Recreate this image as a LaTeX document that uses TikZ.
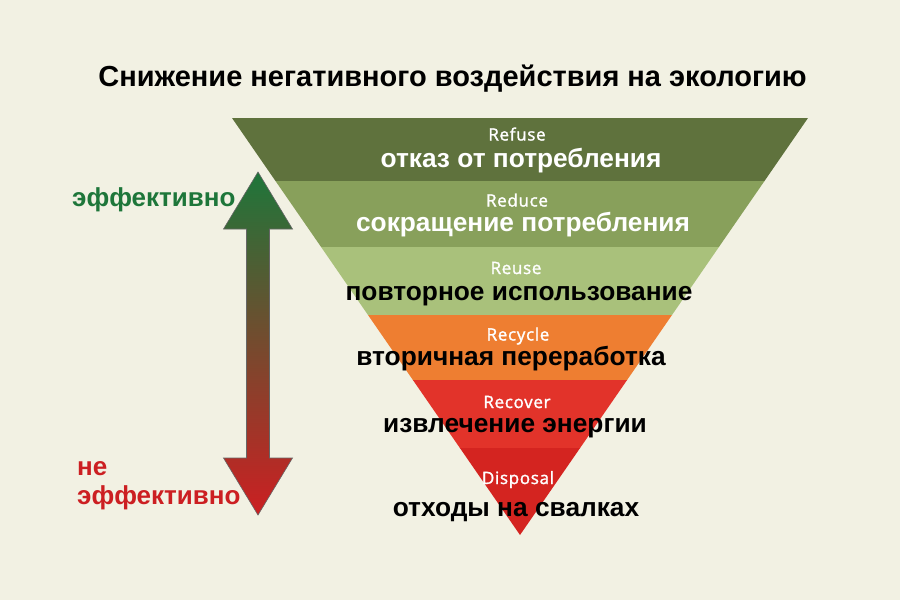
\documentclass[tikz,border=0pt]{standalone}
\usepackage{fontspec}
\setmainfont{Liberation Sans}
\newfontfamily\labelfont{Open Sans}[FakeBold=1.6,LetterSpace=4]
\definecolor{bgcream}{HTML}{F2F1E3}
\definecolor{refusegreen}{HTML}{5F723D}
\definecolor{reducegreen}{HTML}{88A05B}
\definecolor{reusegreen}{HTML}{A9C17B}
\definecolor{recycleorange}{HTML}{EE7E31}
\definecolor{recoverred}{HTML}{E2332A}
\definecolor{disposalred}{HTML}{D42420}
\definecolor{goodgreen}{HTML}{1E763A}
\definecolor{badred}{HTML}{CC1F22}
\begin{document}
\begin{tikzpicture}[x=1pt,y=-1pt,
  en/.style={text=white,font=\labelfont\fontsize{17}{19}\selectfont,anchor=base,inner sep=0pt},
  ru/.style={font=\bfseries\fontsize{26.3}{30}\selectfont,anchor=base,inner sep=0pt},
  side/.style={font=\bfseries\fontsize{26}{30}\selectfont,anchor=base west,inner sep=0pt}]
\useasboundingbox (0,0) rectangle (900,600);
\fill[bgcream] (0,0) rectangle (900,600);

% title
\node[font=\bfseries\fontsize{29}{33}\selectfont,anchor=base,inner sep=0pt] (title) at (452.5,86) {Снижение негативного воздействия на экологию};

% bands of the funnel
\fill[refusegreen] (232,118) -- (808,118) -- (764.5,181) -- (275.5,181) -- cycle;
\fill[reducegreen] (275.5,181) -- (764.5,181) -- (718.9,247) -- (321.1,247) -- cycle;
\fill[reusegreen] (321.1,247) -- (718.9,247) -- (672.0,315) -- (368.0,315) -- cycle;
\fill[recycleorange] (368.0,315) -- (672.0,315) -- (627.1,380) -- (412.9,380) -- cycle;
\fill[recoverred] (412.9,380) -- (627.1,380) -- (580.1,448) -- (459.9,448) -- cycle;
\fill[disposalred] (459.9,448) -- (580.1,448) -- (520,535) -- cycle;

\node[en] (refuse) at (517,140.5) {Refuse};
\node[ru,text=white] (refuseRu) at (521,167.5) {отказ от потребления};
\node[en] (reduce) at (517,206.5) {Reduce};
\node[ru,text=white] (reduceRu) at (523,231.5) {сокращение потребления};
\node[en] (reuse) at (516,274) {Reuse};
\node[ru] (reuseRu) at (519,300.5) {повторное использование};
\node[en] (recycle) at (518,340.5) {Recycle};
\node[ru] (recycleRu) at (511,365) {вторичная переработка};
\node[en] (recover) at (517,408) {Recover};
\node[ru] (recoverRu) at (515,432) {извлечение энергии};
\node[en] (disposal) at (518,484) {Disposal};
\node[ru] (disposalRu) at (516,516.5) {отходы на свалках};

% scale arrow
\shade[top color=goodgreen,middle color=black!20!brown!90!red,bottom color=badred,draw=black!60,line width=0.6pt]
  (258,172) -- (292.5,229) -- (269.5,229) -- (269.5,458) -- (292.5,458) -- (258,515)
  -- (223.5,458) -- (246.5,458) -- (246.5,229) -- (223.5,229) -- cycle;

\node[side,text=goodgreen] (good) at (72,206) {эффективно};
\node[side,text=badred] (badNe) at (77,475) {не};
\node[side,text=badred] (bad) at (77,504) {эффективно};
\end{tikzpicture}
\end{document}
